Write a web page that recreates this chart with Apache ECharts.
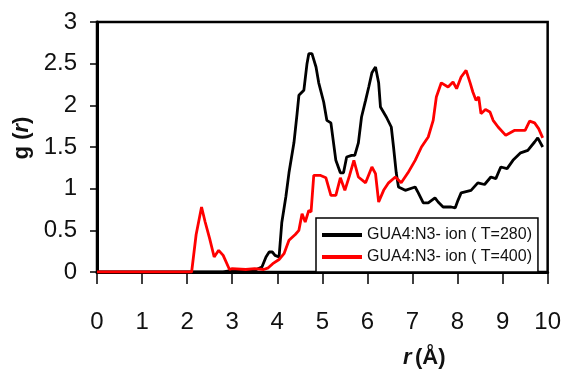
<!DOCTYPE html>
<html><head><meta charset="utf-8">
<script src="https://cdn.jsdelivr.net/npm/echarts@6/dist/echarts.min.js"></script>
<style>html,body{margin:0;padding:0;background:#fff}#c{width:564px;height:376px}</style>
</head><body><div id="c"></div>
<script>
var xTicks = [0,1,2,3,4,5,6,7,8,9,10];
var yTicks = [0,0.5,1,1.5,2,2.5,3];
var nameBlack = 'GUA4:N3- ion ( T=280)';
var nameRed = 'GUA4:N3- ion ( T=400)';
var rBlack = [0, 2.8, 3.0, 3.3, 3.5, 3.66, 3.75, 3.82, 3.89, 3.95, 4.04, 4.1, 4.19, 4.26, 4.37, 4.44, 4.48, 4.59, 4.66, 4.7, 4.77, 4.86, 4.92, 5.03, 5.1, 5.19, 5.3, 5.4, 5.47, 5.54, 5.65, 5.72, 5.8, 5.87, 5.96, 6.03, 6.1, 6.18, 6.25, 6.29, 6.42, 6.53, 6.58, 6.64, 6.69, 6.84, 7.06, 7.13, 7.24, 7.35, 7.5, 7.57, 7.68, 7.86, 7.95, 8.01, 8.08, 8.3, 8.45, 8.6, 8.74, 8.85, 8.96, 9.1, 9.23, 9.4, 9.56, 9.71, 9.78, 9.89];
var gBlack = [0, 0, 0.02, 0.03, 0.02, 0.06, 0.18, 0.24, 0.24, 0.2, 0.18, 0.59, 0.9, 1.19, 1.55, 1.9, 2.12, 2.18, 2.5, 2.62, 2.62, 2.46, 2.27, 2.04, 1.82, 1.79, 1.34, 1.19, 1.19, 1.38, 1.4, 1.4, 1.55, 1.86, 2.06, 2.22, 2.39, 2.46, 2.27, 1.98, 1.86, 1.74, 1.5, 1.19, 1.02, 0.98, 1.02, 0.95, 0.83, 0.83, 0.89, 0.84, 0.78, 0.78, 0.77, 0.86, 0.95, 0.98, 1.07, 1.05, 1.14, 1.12, 1.26, 1.24, 1.34, 1.43, 1.46, 1.56, 1.61, 1.5];
var rRed = [0, 2.1, 2.2, 2.32, 2.4, 2.5, 2.6, 2.7, 2.8, 2.94, 3.0, 3.3, 3.5, 3.7, 3.8, 3.9, 4.04, 4.15, 4.26, 4.4, 4.48, 4.55, 4.62, 4.7, 4.75, 4.81, 4.95, 5.08, 5.19, 5.3, 5.4, 5.5, 5.6, 5.7, 5.8, 5.96, 6.1, 6.18, 6.25, 6.36, 6.47, 6.62, 6.75, 6.9, 7.06, 7.2, 7.35, 7.46, 7.53, 7.64, 7.79, 7.9, 7.98, 8.08, 8.19, 8.28, 8.34, 8.41, 8.47, 8.52, 8.62, 8.72, 8.79, 8.9, 9.07, 9.27, 9.5, 9.6, 9.71, 9.8, 9.89];
var gRed = [0, 0, 0.45, 0.78, 0.6, 0.4, 0.18, 0.26, 0.2, 0.03, 0.04, 0.03, 0.04, 0.03, 0.05, 0.1, 0.15, 0.22, 0.38, 0.45, 0.5, 0.7, 0.6, 0.74, 0.72, 1.16, 1.16, 1.13, 0.92, 0.92, 1.13, 0.98, 1.15, 1.34, 1.14, 1.07, 1.26, 1.18, 0.84, 0.98, 1.07, 1.14, 1.07, 1.19, 1.34, 1.5, 1.62, 1.82, 2.1, 2.27, 2.22, 2.28, 2.2, 2.34, 2.42, 2.27, 2.16, 2.06, 2.1, 1.9, 1.95, 1.92, 1.82, 1.74, 1.64, 1.7, 1.7, 1.81, 1.79, 1.72, 1.61];

function zip(a, b) { return a.map(function (v, i) { return [v, b[i]]; }); }
var tickFont = 'Liberation Sans Narrow, Arial Narrow, Liberation Sans, sans-serif';
var titleFont = 'Liberation Sans, Arial, sans-serif';

var chart = echarts.init(document.getElementById('c'), null, {renderer: 'canvas'});
chart.setOption({
  backgroundColor: '#ffffff',
  animation: false,
  grid: {left: 97, right: 15, top: 22, bottom: 104, show: true, borderColor: '#000', borderWidth: 2.5, backgroundColor: 'transparent'},
  xAxis: {
    type: 'value', min: xTicks[0], max: xTicks[xTicks.length - 1], interval: 1,
    axisLine: {show: true, onZero: false, lineStyle: {color: '#000', width: 3}},
    axisTick: {show: true, inside: false, length: 12, lineStyle: {color: '#000', width: 1.5}},
    axisLabel: {color: '#111', fontFamily: tickFont, fontSize: 24, margin: 38},
    splitLine: {show: false},
    name: '{i|r} {b|(Å)}', nameLocation: 'middle', nameGap: 75,
    nameTextStyle: {padding: [0, 0, 0, 204], rich: {
      i: {fontStyle: 'italic', fontWeight: 'bold', fontSize: 22, fontFamily: titleFont, color: '#111'},
      b: {fontWeight: 'bold', fontSize: 22, fontFamily: titleFont, color: '#111'}}}
  },
  yAxis: {
    type: 'value', min: yTicks[0], max: yTicks[yTicks.length - 1], interval: 0.5,
    axisLine: {show: true, onZero: false, lineStyle: {color: '#000', width: 3}},
    axisTick: {show: true, inside: false, length: 7, lineStyle: {color: '#000', width: 1.5}},
    axisLabel: {color: '#111', fontFamily: tickFont, fontSize: 24, margin: 20},
    splitLine: {show: false},
    name: '{b|g (}{i|r}{b|)}', nameLocation: 'middle', nameGap: 58, nameRotate: 90,
    nameTextStyle: {padding: [0, 0, 0, 18], rich: {
      i: {fontStyle: 'italic', fontWeight: 'bold', fontSize: 22, fontFamily: titleFont, color: '#111'},
      b: {fontWeight: 'bold', fontSize: 22, fontFamily: titleFont, color: '#111'}}}
  },
  legend: {
    show: true, left: 316, top: 218, orient: 'vertical', itemGap: 4,
    itemWidth: 40, itemHeight: 4, icon: 'rect',
    padding: [8, 6, 6, 6],
    backgroundColor: '#fff', borderColor: '#000', borderWidth: 1.5,
    textStyle: {fontFamily: titleFont, fontSize: 16, color: '#111', lineHeight: 18},
    data: [nameBlack, nameRed]
  },
  series: [
    {name: nameBlack, type: 'line', data: zip(rBlack, gBlack), showSymbol: false, symbol: 'none',
     lineStyle: {color: '#000', width: 2.8}, itemStyle: {color: '#000'}},
    {name: nameRed, type: 'line', data: zip(rRed, gRed), showSymbol: false, symbol: 'none',
     lineStyle: {color: '#ff0000', width: 2.8}, itemStyle: {color: '#ff0000'}}
  ]
});
</script></body></html>
